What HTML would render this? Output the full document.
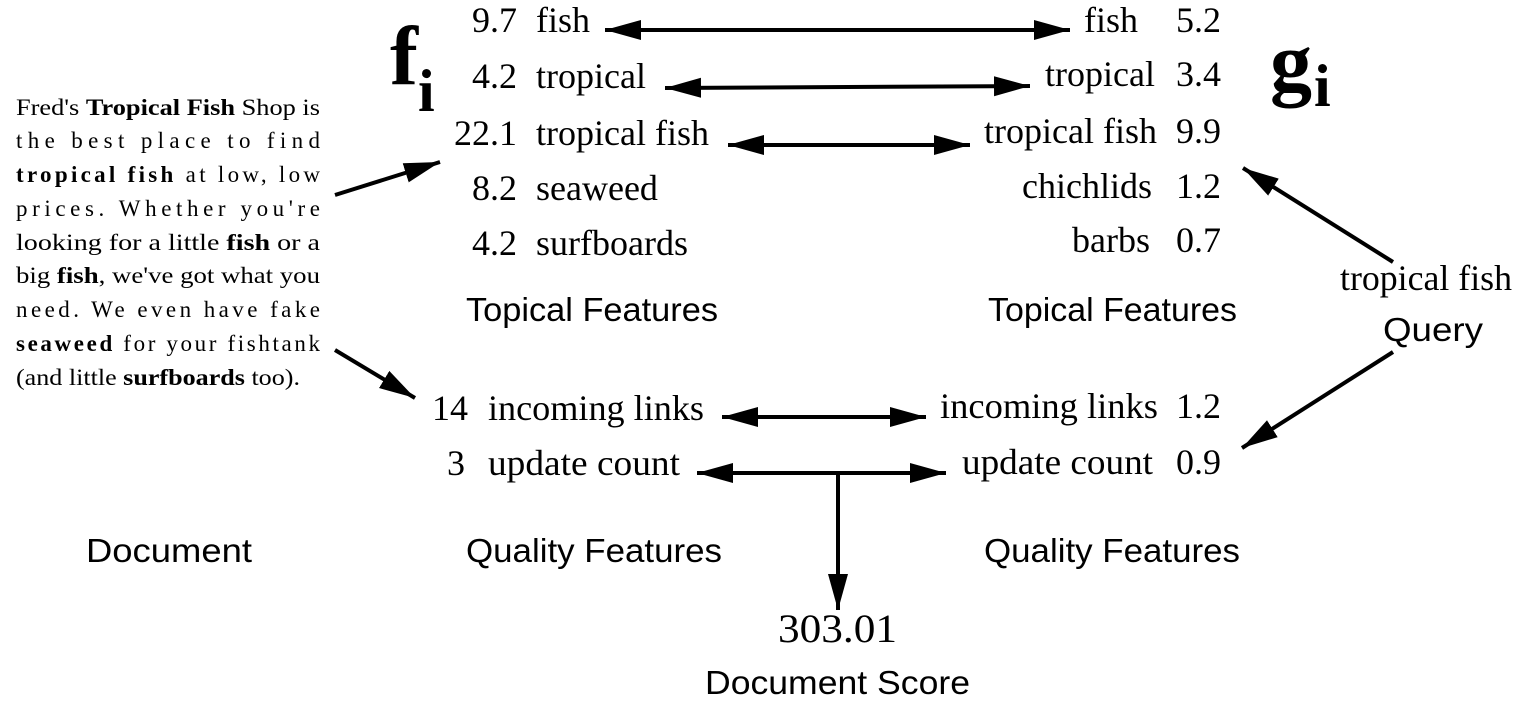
<!DOCTYPE html>
<html><head><meta charset="utf-8"><style>
html,body{margin:0;padding:0;background:#fff;}
svg{display:block;}
.s{font-family:"Liberation Serif",serif;fill:#000;}
.ss{font-family:"Liberation Sans",sans-serif;fill:#000;}
</style></head><body>
<svg width="1531" height="709" viewBox="0 0 1531 709" xmlns="http://www.w3.org/2000/svg">
<defs>
<marker id="a" markerUnits="userSpaceOnUse" markerWidth="38" markerHeight="22" refX="36" refY="11" orient="auto-start-reverse">
<path d="M0,1 L36,11 L0,21 Z" fill="#000"/>
</marker>
</defs>
<g stroke="#000" stroke-width="4" fill="none">
<line x1="605" y1="30" x2="1070" y2="30" marker-start="url(#a)" marker-end="url(#a)"/>
<line x1="665" y1="88" x2="1030" y2="86" marker-start="url(#a)" marker-end="url(#a)"/>
<line x1="728" y1="145" x2="970" y2="145" marker-start="url(#a)" marker-end="url(#a)"/>
<line x1="722" y1="417" x2="926" y2="417" marker-start="url(#a)" marker-end="url(#a)"/>
<line x1="697" y1="473" x2="946" y2="473" marker-start="url(#a)" marker-end="url(#a)"/>
<line x1="838" y1="473" x2="838" y2="610" marker-end="url(#a)"/>
<line x1="335" y1="195" x2="440" y2="162" marker-end="url(#a)"/>
<line x1="335" y1="350" x2="415" y2="398" marker-end="url(#a)"/>
<line x1="1393" y1="262" x2="1243" y2="168" marker-end="url(#a)"/>
<line x1="1393" y1="352" x2="1242" y2="448" marker-end="url(#a)"/>
</g>

<text class="s" x="390" y="84" font-size="84" font-weight="bold">f</text>
<text class="s" x="418" y="111" font-size="60" font-weight="bold">i</text>
<text class="s" x="1270" y="90" font-size="84" font-weight="bold">g</text>
<text class="s" x="1314" y="106" font-size="60" font-weight="bold">i</text>

<g class="s" font-size="36">
<text x="517" y="32" text-anchor="end">9.7</text><text x="536" y="32">fish</text>
<text x="517" y="88" text-anchor="end">4.2</text><text x="536" y="88">tropical</text>
<text x="517" y="145" text-anchor="end">22.1</text><text x="536" y="145">tropical fish</text>
<text x="517" y="200" text-anchor="end">8.2</text><text x="536" y="200">seaweed</text>
<text x="517" y="255" text-anchor="end">4.2</text><text x="536" y="255">surfboards</text>
<text x="1138" y="32" text-anchor="end">fish</text><text x="1176" y="32">5.2</text>
<text x="1155" y="86" text-anchor="end">tropical</text><text x="1176" y="86">3.4</text>
<text x="1157" y="143" text-anchor="end">tropical fish</text><text x="1176" y="143">9.9</text>
<text x="1152" y="198" text-anchor="end">chichlids</text><text x="1176" y="198">1.2</text>
<text x="1150" y="252" text-anchor="end">barbs</text><text x="1176" y="252">0.7</text>
<text x="468" y="420" text-anchor="end">14</text><text x="488" y="420" textLength="216" lengthAdjust="spacingAndGlyphs">incoming links</text>
<text x="465" y="475" text-anchor="end">3</text><text x="488" y="475" textLength="192" lengthAdjust="spacingAndGlyphs">update count</text>
<text x="940" y="418" textLength="218" lengthAdjust="spacingAndGlyphs">incoming links</text><text x="1176" y="418">1.2</text>
<text x="962" y="474" textLength="191" lengthAdjust="spacingAndGlyphs">update count</text><text x="1176" y="474">0.9</text>
<text x="778" y="642" font-size="40" textLength="119" lengthAdjust="spacingAndGlyphs">303.01</text>
<text x="1340" y="290" textLength="172" lengthAdjust="spacingAndGlyphs">tropical fish</text>
</g>

<g class="ss" font-size="33">
<text x="466" y="321" textLength="252" lengthAdjust="spacingAndGlyphs">Topical Features</text>
<text x="988" y="321" textLength="249" lengthAdjust="spacingAndGlyphs">Topical Features</text>
<text x="466" y="562" textLength="256" lengthAdjust="spacingAndGlyphs">Quality Features</text>
<text x="984" y="562" textLength="256" lengthAdjust="spacingAndGlyphs">Quality Features</text>
<text x="86" y="562" textLength="166" lengthAdjust="spacingAndGlyphs">Document</text>
<text x="1383" y="341" textLength="100" lengthAdjust="spacingAndGlyphs">Query</text>
<text x="705" y="694" textLength="265" lengthAdjust="spacingAndGlyphs">Document Score</text>
</g>

<g class="s" font-size="23">
<text x="16" y="115" textLength="304" lengthAdjust="spacingAndGlyphs">Fred's <tspan font-weight="bold">Tropical Fish</tspan> Shop is</text>
<text x="16" y="148" textLength="304" lengthAdjust="spacing">the best place to find</text>
<text x="16" y="182" textLength="304" lengthAdjust="spacing"><tspan font-weight="bold">tropical fish</tspan> at low, low</text>
<text x="16" y="216" textLength="304" lengthAdjust="spacing">prices.   Whether you're</text>
<text x="16" y="250" textLength="304" lengthAdjust="spacingAndGlyphs">looking for a little <tspan font-weight="bold">fish</tspan> or a</text>
<text x="16" y="283" textLength="304" lengthAdjust="spacingAndGlyphs">big <tspan font-weight="bold">fish</tspan>, we've got what you</text>
<text x="16" y="317" textLength="304" lengthAdjust="spacing">need.  We even have fake</text>
<text x="16" y="351" textLength="304" lengthAdjust="spacing"><tspan font-weight="bold">seaweed</tspan> for your fishtank</text>
<text x="16" y="385" textLength="284" lengthAdjust="spacingAndGlyphs">(and little <tspan font-weight="bold">surfboards</tspan> too).</text>
</g>
</svg>
</body></html>
